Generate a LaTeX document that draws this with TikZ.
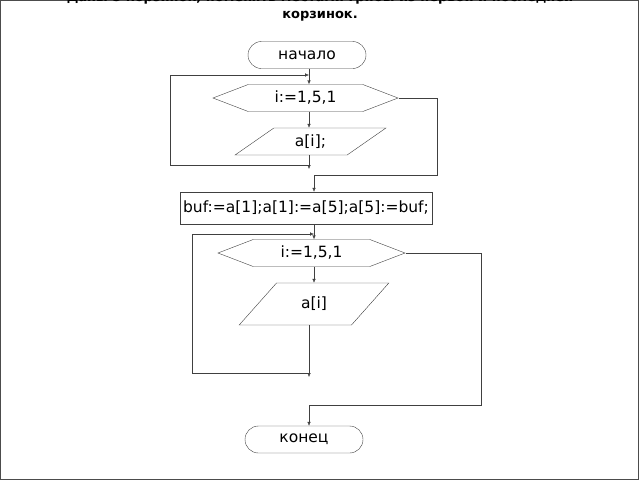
\documentclass[tikz,border=0pt]{standalone}
\usepackage{fontspec}
\setmainfont{DejaVu Sans}
\usetikzlibrary{arrows.meta,shapes.geometric,shapes.misc,shapes.symbols,positioning}
\tikzset{
	terminal/.style={
		rounded rectangle, draw=black!75, minimum width=118pt, minimum height=27pt,
		inner sep=0pt, font=\fontsize{15.5}{18}\selectfont
	},
	%
	loophead/.style={
		signal, signal to=east and west, signal pointer angle=42, draw=black!75,
		minimum width=185pt, minimum height=27pt, inner sep=0pt,
		font=\fontsize{15.5}{18}\selectfont
	},
	%
	io/.style={
		trapezium, trapezium left angle=#1, trapezium right angle=180-#1,
		trapezium stretches=true, draw=black!75, minimum width=151pt,
		minimum height=27pt, inner sep=0pt, font=\fontsize{15.5}{18}\selectfont
	},
	%
	process/.style={
		rectangle, draw=black!75, minimum width=252pt, minimum height=32pt,
		inner sep=0pt, font=\fontsize{15.5}{18}\selectfont
	},
	%
	flow/.style={
		draw=black!75, -{Latex[length=4pt,width=3.5pt]}
	}
}
\begin{document}
\begin{tikzpicture}[x=1pt,y=-1pt]
    \useasboundingbox (0,0) rectangle (640,480);
    \draw[black!70] (0.5,0.5) rectangle (638,479.5);
    \node(title)[font=\bfseries\fontsize{13}{17}\selectfont, align=center] at (320,6)
        {Даны 5 корзинок, поменять местами грибы из первой и последней\\корзинок.};
    \node(start)[terminal] at (307,55){начало};
    \node(loopA)[loophead] at (305.5,98){i:=1,5,1};
    \node(readA)[io=40] at (310.5,141.5){a[i];};
    \node(swap)[process] at (306,208){buf:=a[1];a[1]:=a[5];a[5]:=buf;};
    \node(loopB)[loophead, minimum width=187pt] at (311.5,253){i:=1,5,1};
    \node(readB)[io=47, minimum width=150pt, minimum height=42pt] at (314,304){a[i]};
    \node(stop)[terminal] at (304,439.5){конец};
    % first loop
    \coordinate(topA) at (309,75);
    \coordinate(endA) at (309,165);
    \coordinate(exitA) at (314,175);
    \draw[flow] (start.south -| topA) -- (loopA.north -| topA);
    \draw[flow] (loopA.south -| topA) -- (readA.north -| topA);
    \draw[flow] (readA.south -| endA) -- ([yshift=-4pt]endA);
    \draw[flow] (endA) -- (170,165) -- (170,75) -- (topA);
    \draw[flow] (loopA.east) -- (loopA.east -| 437,0) -- (437,175) -- (exitA) -- (swap.north -| exitA);
    % second loop
    \coordinate(topB) at (314,234);
    \coordinate(endB) at (309,373);
    \coordinate(exitB) at (309,405);
    \draw[flow] (swap.south -| topB) -- (loopB.north -| topB);
    \draw[flow] (loopB.south -| topB) -- (readB.north -| topB);
    \draw[flow] (readB.south -| endB) -- ([yshift=-4pt]endB);
    \draw[flow] (endB) -- (192,373) -- (192,234) -- (topB);
    \draw[flow] (loopB.east) -- (loopB.east -| 481,0) -- (481,405) -- (exitB) -- (stop.north -| exitB);
\end{tikzpicture}
\end{document}
